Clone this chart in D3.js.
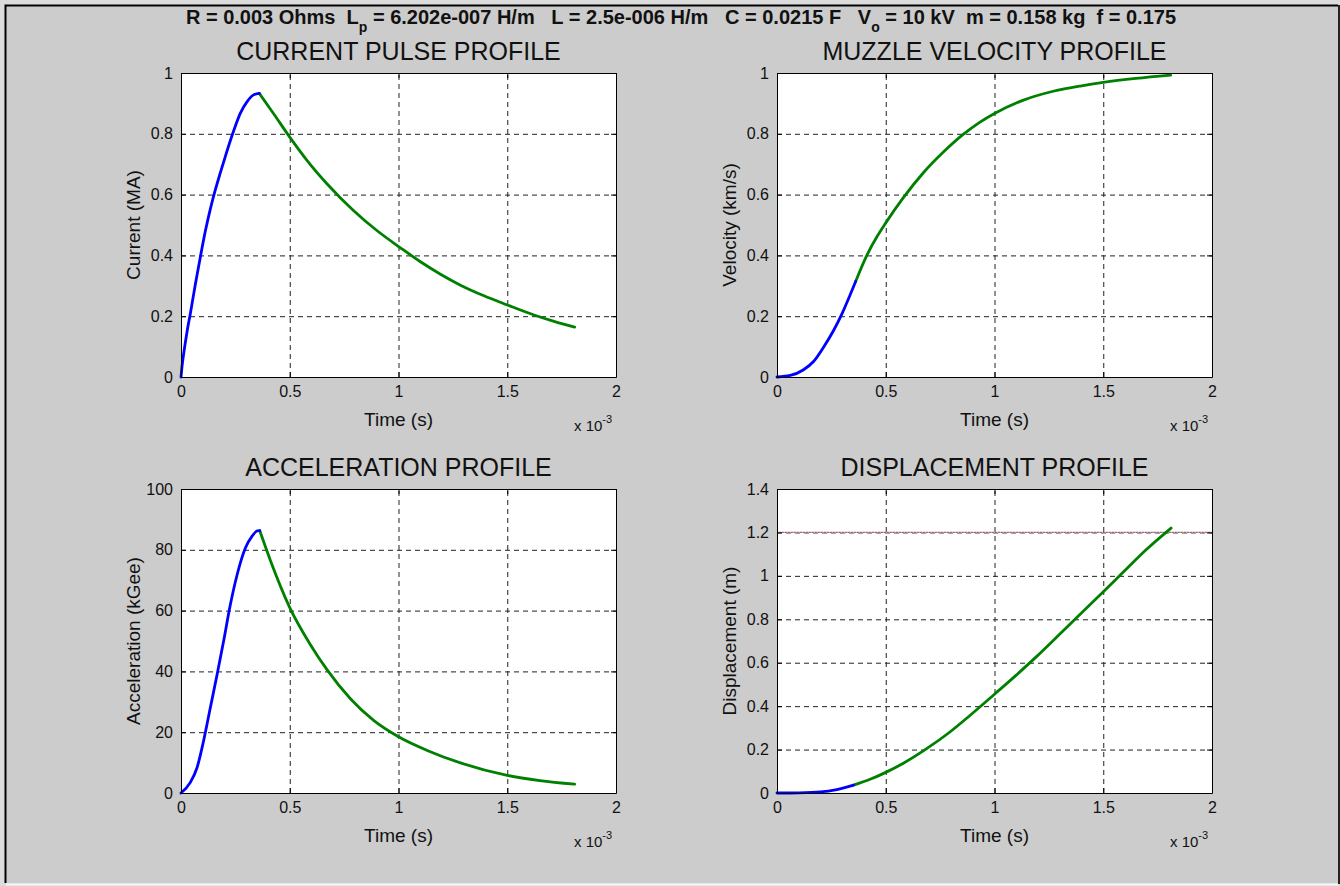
<!DOCTYPE html>
<html>
<head>
<meta charset="utf-8">
<script src="https://cdn.jsdelivr.net/npm/d3@7"></script>
<style>
  body { margin:0; background:#dcdcdc; }
  svg text { font-family: "Liberation Sans", Arial, sans-serif; fill:#111; }
  .grid line { stroke:#222; stroke-dasharray:5,4; }
  .grid path { display:none; }
  .ax path, .ax line { stroke:#000; }
</style>
</head>
<body>
<div id="fig"></div>
<script>
// time axis in units of 1e-3 s
var xTicks = [0, 0.5, 1, 1.5, 2];

// current pulse (MA)
var currentRise = [[0,0],[0.004,0.03],[0.015,0.09],[0.028,0.15],[0.043,0.209],[0.066,0.305],[0.089,0.395],
  [0.112,0.48],[0.135,0.553],[0.158,0.616],[0.181,0.672],[0.204,0.726],[0.227,0.778],[0.25,0.826],
  [0.273,0.868],[0.304,0.906],[0.334,0.928],[0.36,0.933]];
var currentFall = [[0.36,0.933],[0.426,0.866],[0.5,0.789],[0.58,0.712],[0.672,0.635],[0.794,0.547],
  [0.902,0.481],[1.009,0.425],[1.101,0.379],[1.193,0.338],[1.285,0.302],[1.393,0.267],[1.5,0.237],
  [1.623,0.204],[1.715,0.183],[1.81,0.164]];
var currentTicks = [0, 0.2, 0.4, 0.6, 0.8, 1];

// muzzle velocity (km/s)
var velocityRise = [[0,0],[0.061,0.005],[0.122,0.024],[0.168,0.051],[0.214,0.098],[0.26,0.153],
  [0.298,0.207],[0.336,0.27],[0.362,0.315]];
var velocityFall = [[0.362,0.315],[0.413,0.4],[0.46,0.462],[0.5,0.507],[0.581,0.59],[0.673,0.672],
  [0.765,0.74],[0.856,0.798],[0.93,0.837],[1.0,0.867],[1.13,0.91],[1.27,0.94],[1.4,0.958],
  [1.5,0.969],[1.65,0.982],[1.81,0.993]];
var velocityTicks = [0, 0.2, 0.4, 0.6, 0.8, 1];

// acceleration (kGee)
var accelRise = [[0,0],[0.043,3.5],[0.074,8.4],[0.104,17.2],[0.135,28.1],[0.166,39],[0.196,50],
  [0.227,62],[0.258,71.8],[0.296,80.6],[0.327,84.5],[0.35,86.2],[0.362,86.3]];
var accelFall = [[0.362,86.3],[0.411,76.5],[0.5,61],[0.595,48.8],[0.672,40.5],[0.779,31],
  [0.887,23.8],[1.0,18.5],[1.132,14],[1.285,9.9],[1.5,5.8],[1.65,4.1],[1.81,2.9]];
var accelTicks = [0, 20, 40, 60, 80, 100];

// displacement (m)
var dispRise = [[0,0],[0.1,0.001],[0.2,0.005],[0.275,0.016],[0.352,0.036]];
var dispFall = [[0.352,0.036],[0.428,0.063],[0.5,0.095],[0.581,0.137],[0.688,0.204],[0.795,0.281],
  [0.887,0.357],[1.0,0.455],[1.1,0.543],[1.193,0.628],[1.284,0.716],[1.376,0.806],[1.498,0.924],
  [1.59,1.015],[1.697,1.12],[1.812,1.22]];
var dispTicks = [0, 0.2, 0.4, 0.6, 0.8, 1, 1.2, 1.4];
var barrelLength = [1.2];

var width = 1340, height = 886;
var svg = d3.select("#fig").append("svg").attr("width", width).attr("height", height);

// figure frame
svg.append("rect").attr("x",0).attr("y",0).attr("width",width).attr("height",height).attr("fill","#dcdcdc");
svg.append("rect").attr("x",6).attr("y",6).attr("width",1332).attr("height",877).attr("fill","#cccccc");
svg.append("path").attr("d","M5.5,883V5.5H1338").attr("stroke","#000").attr("stroke-width",2).attr("fill","none");
svg.append("line").attr("x1",1339).attr("x2",1339).attr("y1",5).attr("y2",884).attr("stroke","#222").attr("stroke-width",2);
svg.append("line").attr("x1",6).attr("x2",1338).attr("y1",884.5).attr("y2",884.5).attr("stroke","#f4f4f4").attr("stroke-width",2);

// super title with subscripts
var st = svg.append("text").attr("x",681).attr("y",24).attr("text-anchor","middle")
  .attr("xml:space","preserve").style("white-space","pre")
  .style("font-weight","bold").style("font-size","20px");
st.append("tspan").text("R = 0.003 Ohms  L");
st.append("tspan").attr("dy",8).style("font-size","14px").text("p");
st.append("tspan").attr("dy",-8).text(" = 6.202e-007 H/m   L = 2.5e-006 H/m   C = 0.0215 F   V");
st.append("tspan").attr("dy",8).style("font-size","14px").text("o");
st.append("tspan").attr("dy",-8).text(" = 10 kV  m = 0.158 kg  f = 0.175");

var panels = [
  {title:"CURRENT PULSE PROFILE", ylabel:"Current (MA)", x0:181, y0:73, ticks:currentTicks, rise:currentRise, fall:currentFall},
  {title:"MUZZLE VELOCITY PROFILE", ylabel:"Velocity (km/s)", x0:777, y0:73, ticks:velocityTicks, rise:velocityRise, fall:velocityFall},
  {title:"ACCELERATION PROFILE", ylabel:"Acceleration (kGee)", x0:181, y0:489, ticks:accelTicks, rise:accelRise, fall:accelFall},
  {title:"DISPLACEMENT PROFILE", ylabel:"Displacement (m)", x0:777, y0:489, ticks:dispTicks, rise:dispRise, fall:dispFall, target:barrelLength}
];
var pw = 435, ph = 304;

panels.forEach(function(p){
  var g = svg.append("g").attr("transform","translate("+p.x0+","+p.y0+")");
  var x = d3.scaleLinear().domain([0,2]).range([0,pw]);
  var y = d3.scaleLinear().domain([0,d3.max(p.ticks)]).range([ph,0]);

  g.append("rect").attr("width",pw).attr("height",ph).attr("fill","#fff");

  // dashed grid
  g.append("g").attr("class","grid").attr("transform","translate(0,"+ph+")")
    .call(d3.axisBottom(x).tickValues(xTicks.slice(1,-1)).tickSize(-ph).tickFormat(""));
  g.append("g").attr("class","grid")
    .call(d3.axisLeft(y).tickValues(p.ticks.slice(1,-1)).tickSize(-pw).tickFormat(""));

  // dotted target line
  if(p.target){
    var cols = ["#e0509a","#5070e0","#d8b030"];
    cols.forEach(function(c,i){
      g.append("line").attr("x1",x(0)).attr("x2",x(2))
        .attr("y1",y(p.target[0])).attr("y2",y(p.target[0]))
        .attr("stroke",c).attr("stroke-width",1.2)
        .attr("stroke-dasharray","1,2").attr("stroke-dashoffset",i);
    });
  }

  var line = d3.line().curve(d3.curveMonotoneX)
    .x(function(d){return x(d[0]);}).y(function(d){return y(d[1]);});
  g.append("path").attr("d",line(p.fall)).attr("fill","none").attr("stroke","#008000")
    .attr("stroke-width",2.8).attr("stroke-linejoin","round").attr("stroke-linecap","round");
  g.append("path").attr("d",line(p.rise)).attr("fill","none").attr("stroke","#0000ff")
    .attr("stroke-width",2.8).attr("stroke-linejoin","round").attr("stroke-linecap","round");

  // axes with inside ticks
  var fmt = function(d){ return String(d); };
  g.append("g").attr("class","ax").attr("transform","translate(0,"+ph+")")
    .call(d3.axisBottom(x).tickValues(xTicks).tickSizeInner(-5).tickSizeOuter(0).tickPadding(9).tickFormat(fmt));
  g.append("g").attr("class","ax")
    .call(d3.axisLeft(y).tickValues(p.ticks).tickSizeInner(-5).tickSizeOuter(0).tickPadding(8).tickFormat(fmt));
  g.append("g").attr("class","ax")
    .call(d3.axisTop(x).tickValues(xTicks).tickSizeInner(-5).tickSizeOuter(0).tickFormat(""));
  g.append("g").attr("class","ax").attr("transform","translate("+pw+",0)")
    .call(d3.axisRight(y).tickValues(p.ticks).tickSizeInner(-5).tickSizeOuter(0).tickFormat(""));
  g.selectAll(".ax text").style("font-size","16px").attr("fill","#111");
  g.selectAll(".ax .domain").attr("stroke","#000");

  // titles and labels
  g.append("text").attr("x",pw/2).attr("y",-13).attr("text-anchor","middle")
    .style("font-size","25px").text(p.title);
  g.append("text").attr("x",pw/2).attr("y",ph+49).attr("text-anchor","middle")
    .style("font-size","19px").text("Time (s)");
  g.append("text").attr("transform","translate(-41,"+(ph/2)+") rotate(-90)").attr("text-anchor","middle")
    .style("font-size","19px").text(p.ylabel);
  var ex = g.append("text").attr("x",pw-42).attr("y",ph+54).style("font-size","15px");
  ex.append("tspan").text("x 10");
  ex.append("tspan").attr("dy",-8).style("font-size","11px").text("-3");
});
</script>
</body>
</html>
